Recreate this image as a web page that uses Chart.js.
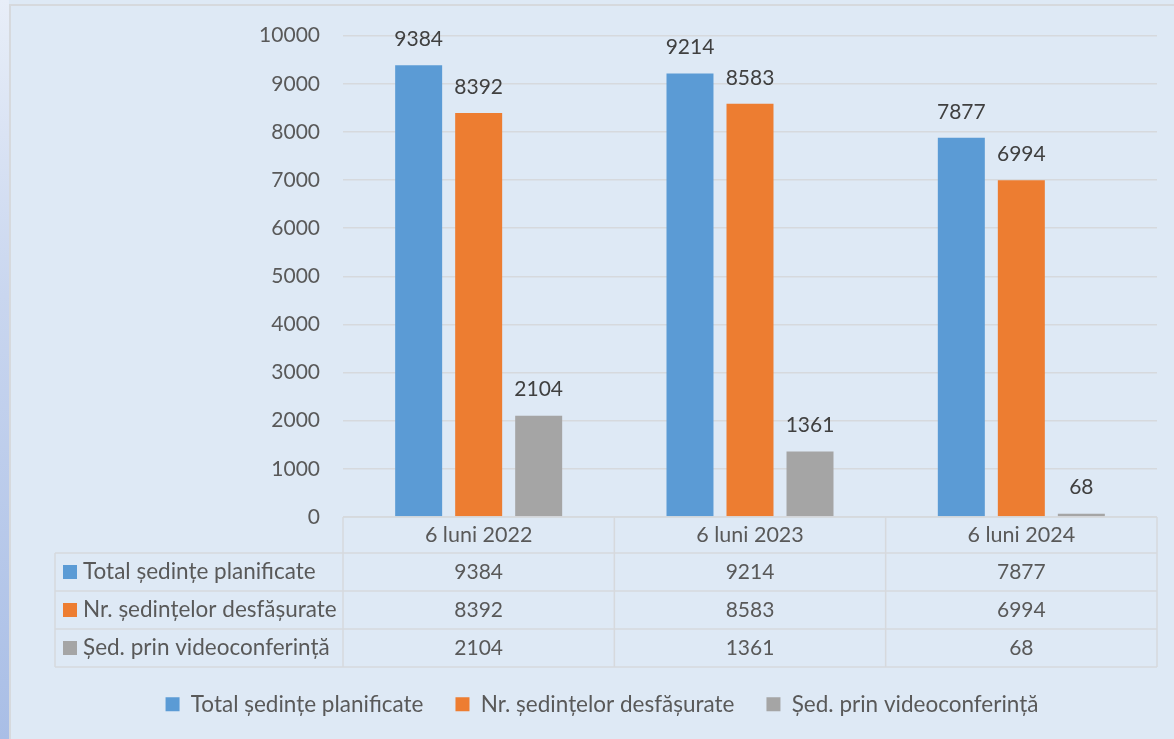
<!DOCTYPE html>
<html>
<head>
<meta charset="utf-8">
<script src="https://cdn.jsdelivr.net/npm/chart.js@4/dist/chart.umd.min.js"></script>
<style>
  html, body { margin: 0; padding: 0; }
  body { width: 1174px; height: 739px; overflow: hidden; background: #dee9f5; position: relative; }
  #stripe { position: absolute; left: 0; top: 0; width: 9px; height: 739px;
            background: linear-gradient(to bottom, #e8eef8 0%, #c9d6ef 40%, #a9bee6 100%); }
  #frame { position: absolute; left: 9px; top: 4px; width: 1180px; height: 760px;
           border-left: 2px solid #d6d9dd; border-top: 2px solid #d6d9dd; background: #dee9f5; }
  canvas { position: absolute; left: 0; top: 0; }
</style>
</head>
<body>
<div id="stripe"></div>
<div id="frame"></div>
<canvas id="c" width="1174" height="739"></canvas>
<script>
const categories = ['6 luni 2022', '6 luni 2023', '6 luni 2024'];
const seriesNames = ['Total ședințe planificate', 'Nr. ședințelor desfășurate', 'Șed. prin videoconferință'];
const totalPlanificate = [9384, 9214, 7877];
const desfasurate = [8392, 8583, 6994];
const videoconferinta = [2104, 1361, 68];
const seriesColors = ['#5b9bd5', '#ed7d31', '#a5a5a5'];
const yTicks = [0, 1000, 2000, 3000, 4000, 5000, 6000, 7000, 8000, 9000, 10000];

const FONT = 'Lato, "Open Sans", sans-serif';
const FS = 21;        // numbers
const FS_TXT = 22.5;  // text labels
const TEXT = '#595959';
const LINE = '#d6d9dd';

const HEADER_H = 36;
const ROW_H = 38;
const LABEL_COL_LEFT = 55;

const dataLabels = {
  id: 'dataLabels',
  afterDatasetsDraw(chart) {
    const ctx = chart.ctx;
    ctx.save();
    ctx.font = FS + 'px ' + FONT;
    ctx.fillStyle = '#404040';
    ctx.textAlign = 'center';
    ctx.textBaseline = 'middle';
    chart.data.datasets.forEach((ds, di) => {
      const meta = chart.getDatasetMeta(di);
      meta.data.forEach((el, i) => {
        ctx.fillText(String(ds.data[i]), el.x, el.y - 26);
      });
    });
    ctx.restore();
  }
};

const dataTable = {
  id: 'dataTable',
  afterDraw(chart) {
    const ctx = chart.ctx;
    const ca = chart.chartArea;
    const xs = chart.scales.x;
    const n = categories.length;
    const cw = (xs.right - xs.left) / n;
    const top = ca.bottom;
    const rowsTop = top + HEADER_H;
    const bottom = rowsTop + ROW_H * chart.data.datasets.length;
    ctx.save();
    ctx.strokeStyle = LINE;
    ctx.lineWidth = 1.5;
    ctx.beginPath();
    ctx.moveTo(xs.left, top); ctx.lineTo(xs.right, top);
    for (let r = 0; r <= chart.data.datasets.length; r++) {
      const y = rowsTop + r * ROW_H;
      ctx.moveTo(LABEL_COL_LEFT, y); ctx.lineTo(xs.right, y);
    }
    for (let i = 0; i <= n; i++) {
      const x = xs.left + i * cw;
      ctx.moveTo(x, top); ctx.lineTo(x, bottom);
    }
    ctx.moveTo(LABEL_COL_LEFT, rowsTop); ctx.lineTo(LABEL_COL_LEFT, bottom);
    ctx.stroke();

    ctx.textBaseline = 'middle';
    chart.data.datasets.forEach((ds, di) => {
      const cy = rowsTop + di * ROW_H + ROW_H / 2;
      ctx.fillStyle = ds.backgroundColor;
      ctx.fillRect(LABEL_COL_LEFT + 8, cy - 7, 14, 14);
      ctx.fillStyle = TEXT;
      ctx.textAlign = 'left';
      ctx.font = FS_TXT + 'px ' + FONT;
      ctx.fillText(ds.label, LABEL_COL_LEFT + 28, cy);
      ctx.textAlign = 'center';
      ctx.font = FS + 'px ' + FONT;
      ds.data.forEach((v, i) => {
        ctx.fillText(String(v), xs.getPixelForValue(i), cy);
      });
    });
    ctx.restore();
  }
};

new Chart(document.getElementById('c'), {
  type: 'bar',
  data: {
    labels: categories,
    datasets: [
      { label: seriesNames[0], data: totalPlanificate, backgroundColor: seriesColors[0] },
      { label: seriesNames[1], data: desfasurate, backgroundColor: seriesColors[1] },
      { label: seriesNames[2], data: videoconferinta, backgroundColor: seriesColors[2] }
    ]
  },
  options: {
    responsive: false,
    animation: false,
    devicePixelRatio: 1,
    layout: { padding: { left: 47, right: 17, top: 34, bottom: 13.5 } },
    datasets: { bar: { categoryPercentage: 0.6635, barPercentage: 0.783 } },
    scales: {
      x: {
        grid: { display: false, drawTicks: false },
        border: { display: false },
        ticks: { color: TEXT, font: { family: FONT, size: 21.5 }, padding: 5, maxRotation: 0 },
        afterFit(scale) { scale.height = 144; }
      },
      y: {
        min: 0, max: 10000,
        afterBuildTicks(scale) { scale.ticks = yTicks.map(v => ({ value: v })); },
        grid: { color: LINE, lineWidth: 1.5, drawTicks: false },
        border: { display: false },
        ticks: { color: TEXT, font: { family: FONT, size: FS }, padding: 23, callback: v => String(v) },
        afterFit(scale) { scale.width = 296; }
      }
    },
    plugins: {
      legend: {
        position: 'bottom',
        labels: { boxWidth: 14, boxHeight: 14, padding: 32, color: TEXT, font: { family: FONT, size: FS_TXT } }
      },
      tooltip: { enabled: false }
    }
  },
  plugins: [dataLabels, dataTable]
});
</script>
</body>
</html>
